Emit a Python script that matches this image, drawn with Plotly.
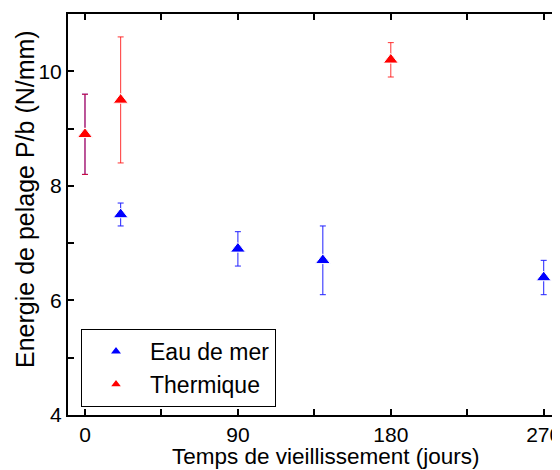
import plotly.graph_objects as go

# Eau de mer (blue)
mer_days = [0, 21, 90, 140, 270]
mer_energy = [8.9, 7.5, 6.9, 6.7, 6.4]
mer_err = [0.7, 0.2, 0.3, 0.6, 0.3]

# Thermique (red)
therm_days = [0, 21, 180]
therm_energy = [8.9, 9.5, 10.2]
therm_err = [0.7, 1.1, 0.3]

font = "Liberation Sans, Arial, sans-serif"

fig = go.Figure()
fig.add_trace(go.Scatter(x=mer_days, y=mer_energy, mode="markers", name="Eau de mer",
                         marker=dict(symbol="triangle-up", size=13, color="#0000ff",
                                     line=dict(color="white", width=1)),
                         error_y=dict(type="data", array=mer_err, color="#2020ff",
                                      thickness=1, width=3)))
fig.add_trace(go.Scatter(x=therm_days, y=therm_energy, mode="markers", name="Thermique",
                         marker=dict(symbol="triangle-up", size=13, color="#ff0000",
                                     line=dict(color="white", width=1)),
                         error_y=dict(type="data", array=therm_err, color="rgba(255,0,0,0.8)",
                                      thickness=1, width=3)))

axis_common = dict(showline=True, linecolor="black", linewidth=2, mirror="allticks",
                   ticks="inside", ticklen=6, tickwidth=2, tickcolor="black",
                   showgrid=False, zeroline=False, automargin=False,
                   ticklabeloverflow="allow",
                   tickfont=dict(family=font, size=21, color="black"))

fig.update_xaxes(range=[-10, 279], tickvals=[0, 90, 180, 270],
                 minor=dict(dtick=45, tick0=0, ticks="inside", ticklen=6, tickwidth=2, tickcolor="black"),
                 **axis_common)
fig.update_yaxes(range=[4, 11], tickvals=[4, 6, 8, 10],
                 minor=dict(dtick=1, tick0=4, ticks="inside", ticklen=6, tickwidth=2, tickcolor="black"),
                 **axis_common)

# axis titles placed as annotations (Origin-style offsets)
fig.add_annotation(text="Temps de vieillissement (jours)", xref="paper", yref="paper",
                   x=0.5255, y=-0.1047, xanchor="center", yanchor="middle", showarrow=False,
                   font=dict(family=font, size=22.5, color="black"))
fig.add_annotation(text="Energie de pelage P/b (N/mm)", xref="paper", yref="paper",
                   x=-0.0876, y=0.5387, xanchor="center", yanchor="middle", showarrow=False,
                   textangle=-90, font=dict(family=font, size=25, color="black"))

# page body has an 8px margin, so the figure is sized to fit inside the window
fig.update_layout(width=552, height=462, template="simple_white",
                  plot_bgcolor="white", paper_bgcolor="white",
                  margin=dict(l=60, r=1, t=6, b=55),
                  legend=dict(x=0.0265, y=0.2145, xanchor="left", yanchor="top",
                              bordercolor="black", borderwidth=1, bgcolor="white",
                              font=dict(family=font, size=23, color="black"),
                              itemwidth=58, itemsizing="constant"),
                  showlegend=True)

fig.write_html("out.html")
